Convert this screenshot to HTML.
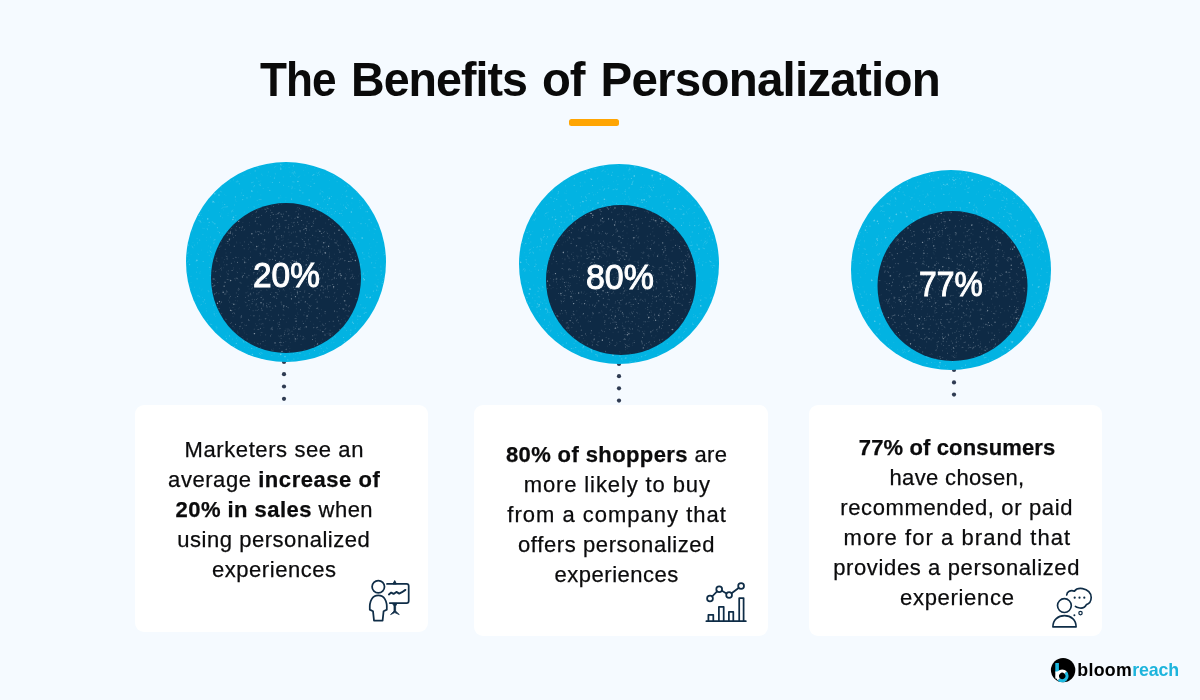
<!DOCTYPE html>
<html lang="en"><head><meta charset="utf-8"><title>The Benefits of Personalization</title>
<style>
html,body{margin:0;padding:0}
body{width:1200px;height:700px;overflow:hidden;position:relative;background:#f5faff;font-family:"Liberation Sans",Arial,sans-serif;color:#0b0b0c}
.abs{position:absolute}
h1{position:absolute;margin:0;white-space:nowrap;font-weight:700;color:#0a0a0a}
h1 span{position:absolute;top:0;display:inline-block;transform-origin:0 0}
.bar{position:absolute;left:569px;top:119.2px;width:50px;height:6.6px;border-radius:2.5px;background:#ffa503}
.card{position:absolute;background:#fff;border-radius:9px}
.ln{position:absolute;white-space:nowrap;-webkit-text-stroke:0.25px #0b0b0c;font-size:22px;line-height:30px;height:30px}
.ln b{font-weight:700}
.num{position:absolute;white-space:nowrap;color:#fff;font-weight:400;-webkit-text-stroke:1px #fff;text-align:center;transform-origin:0 0}
svg{position:absolute;overflow:visible}
.logo{position:absolute;white-space:nowrap;font-weight:700;color:#000}
.logo span{color:#1db4dc}
</style></head><body>
<h1 style="left:260px;top:51.04px;font-size:47.5px;line-height:57.00px;height:57.00px;width:680px"><span style="left:-0.19px;letter-spacing:-1.000px;transform:scaleX(0.9288)">The</span> <span style="left:90.63px;letter-spacing:-1.000px;transform:scaleX(0.9802)">Benefits</span> <span style="left:281.51px;letter-spacing:-1.000px;transform:scaleX(0.9940)">of</span> <span style="left:340.50px;letter-spacing:-0.776px;transform:scaleX(1.0000)">Personalization</span></h1>
<div class="bar"></div>
<svg width="1200" height="700" viewBox="0 0 1200 700" style="left:0;top:0"><defs><g id="spk" fill="none" stroke-linecap="round"><path stroke-width="0.6" opacity="0.35" d="M-9.6 12.1h0M85.7 -6.9h0M1.6 17.7h0M-63.7 2.4h0M26.2 59.2h0M-82.0 -39.7h0M-82.7 62.5h0M39.1 -92.5h0M97.4 93.9h0M31.1 23.3h0M-69.2 -98.0h0M5.7 -89.0h0M-62.6 -52.1h0M-94.9 -7.3h0M-12.0 69.2h0M3.9 28.3h0M-0.0 32.8h0M-8.6 -44.8h0M100.5 100.1h0M68.7 42.0h0M-37.3 -54.6h0M-42.6 -86.8h0M53.8 -20.1h0M70.0 -22.9h0M92.5 70.2h0M-100.9 -58.6h0M82.9 -6.1h0M97.0 -20.7h0M-86.2 26.1h0M56.3 -46.5h0M-83.4 -33.8h0M93.7 52.1h0M-77.2 -51.2h0M-80.6 -88.9h0M60.0 -65.1h0M12.0 -10.6h0M-62.5 46.8h0M-74.5 29.0h0M-77.5 -16.0h0M-58.0 -46.5h0M95.1 61.3h0M-39.6 77.7h0M-58.4 -21.4h0M71.6 28.7h0M-80.7 98.8h0M-57.9 -48.8h0M55.1 -34.6h0M-41.1 -86.2h0M-82.8 16.7h0M-51.9 20.5h0M-25.9 -9.5h0M92.7 -3.3h0M15.1 74.0h0M-64.1 -69.9h0M82.5 64.2h0M-50.6 -62.7h0M48.4 89.0h0M-61.3 90.9h0M77.2 20.9h0M-15.9 -80.0h0M-93.2 93.5h0M-52.8 41.3h0M-49.1 65.4h0M19.5 -41.7h0M-65.6 44.5h0M-87.1 -54.9h0M12.0 71.2h0M23.1 -44.4h0M84.3 -59.8h0M-97.7 -46.6h0M-11.0 -88.8h0M-65.4 -26.5h0M14.6 -74.4h0M-27.8 79.0h0M97.1 31.7h0M38.6 17.1h0M-72.6 -93.9h0M-97.4 82.9h0M40.6 93.5h0M-96.7 27.5h0M-3.6 46.6h0M-36.6 100.9h0M-85.8 9.3h0M47.9 80.8h0M47.9 41.1h0M59.2 83.8h0M-29.9 37.4h0M81.0 75.0h0M-16.7 58.7h0M73.4 14.7h0M25.2 -23.8h0M16.7 22.0h0M-84.8 28.2h0M99.7 76.7h0M46.1 -22.5h0M47.5 16.4h0M-12.0 68.4h0M-84.1 50.5h0M-95.0 20.5h0M-3.8 -54.5h0M40.1 -0.6h0M23.1 84.9h0M-49.3 -98.7h0M-40.2 36.0h0M-60.1 -66.7h0M82.0 32.3h0M-11.7 79.1h0M-35.0 33.5h0M-60.9 -14.0h0M61.8 83.7h0M76.8 -23.3h0M16.8 -37.1h0M-73.5 -0.7h0M68.1 70.4h0M42.7 90.9h0M-45.1 -66.8h0M-10.0 -45.4h0M-57.8 -17.4h0M25.4 -1.2h0M-37.3 68.5h0M97.4 -9.6h0M-85.9 -94.6h0M75.3 -92.6h0M42.1 14.3h0M-38.6 58.9h0M-97.1 -73.6h0M-9.1 -96.0h0M66.6 -53.0h0M-72.5 -91.5h0M26.1 -10.8h0M26.3 31.3h0M62.1 92.6h0M37.3 -60.7h0M-5.0 -64.9h0M-98.8 -5.6h0M43.3 -64.8h0M-46.0 -31.2h0M39.9 4.1h0M23.1 51.8h0M-21.5 59.0h0M82.1 -83.4h0M87.4 44.9h0M-74.8 -9.4h0M25.4 82.8h0M-24.9 13.9h0M76.6 59.9h0M89.7 -7.3h0M30.6 -59.6h0M44.8 64.3h0M28.6 44.0h0M-57.9 80.8h0M97.1 96.4h0M7.5 58.7h0M-36.3 82.8h0M71.9 -30.6h0M-84.3 -11.9h0M10.2 54.2h0M-2.5 -95.3h0M62.4 -88.1h0M60.6 -66.1h0M-33.3 58.2h0M-72.6 -71.0h0M3.3 45.2h0M68.7 38.3h0M90.0 -1.5h0M90.7 -83.6h0M-56.3 5.4h0M-42.4 46.2h0M28.1 4.6h0M69.4 12.1h0M-38.0 -24.0h0M69.7 80.9h0M-58.9 70.9h0M94.6 4.9h0M14.7 -60.4h0M7.3 0.6h0M21.3 -95.4h0M94.8 3.2h0M-20.1 60.8h0M12.7 -1.8h0M38.6 -87.7h0M7.8 -17.4h0M92.3 85.5h0M-46.6 -5.4h0M-75.4 -13.4h0M63.8 80.9h0M-4.7 -36.9h0M-62.3 23.8h0M85.9 -74.8h0M56.4 -96.4h0M-61.8 -55.1h0M37.8 -35.9h0M-29.2 24.2h0M-79.8 46.6h0M-76.2 2.1h0M-50.4 -61.1h0M6.1 -12.8h0M-25.1 -17.5h0M5.9 -68.7h0M-59.7 26.5h0M28.0 6.0h0M71.0 22.6h0M72.1 -54.0h0M48.6 62.7h0M81.3 -37.2h0M-37.4 85.4h0M-56.9 100.7h0M78.3 -73.9h0M-52.7 45.8h0M-48.6 -81.4h0M67.1 -15.8h0M58.6 -75.5h0M-19.6 37.4h0M-97.4 -60.4h0M36.8 83.1h0M94.6 -77.7h0M1.1 52.1h0M0.6 37.5h0M-62.8 -86.7h0M-79.6 -93.4h0M10.4 3.0h0M13.9 -71.4h0M-63.7 -59.8h0M68.7 99.0h0M86.2 -81.8h0M-88.5 91.2h0M-7.7 53.5h0M-35.0 -6.7h0M3.1 -14.1h0M20.4 -98.3h0M40.6 69.5h0M-64.4 -9.3h0M48.3 -19.1h0M-61.6 -67.7h0M2.5 -97.9h0M79.4 60.9h0M41.3 72.9h0M26.1 -19.3h0M20.1 0.9h0M97.5 61.6h0M-48.8 83.1h0M49.4 56.2h0M63.6 -19.1h0M80.1 76.7h0M39.3 54.0h0M53.6 -19.0h0M45.0 -86.7h0M-32.0 -6.3h0M-98.9 -29.2h0M28.0 25.1h0M-54.1 89.8h0M33.6 -32.8h0M32.3 14.1h0M6.7 -22.3h0M101.0 28.7h0M40.7 52.9h0M97.0 -96.4h0M23.3 48.2h0M-49.2 -19.9h0M-90.8 -61.5h0M-25.1 -81.1h0M-50.3 81.9h0M10.1 1.6h0M94.4 13.7h0M100.0 27.9h0M62.5 -85.6h0M19.7 52.4h0M-91.9 86.9h0M-68.7 -5.7h0M-66.8 -0.9h0M22.5 -89.2h0M89.9 -16.0h0M5.4 19.8h0M-27.2 -43.3h0M31.3 12.3h0M-43.7 43.8h0M-41.2 -98.2h0M-51.5 -92.4h0M-69.4 51.4h0M-22.2 80.3h0M50.2 -90.9h0M98.7 89.8h0M-86.2 81.9h0M-14.2 -4.5h0M95.6 -51.8h0M4.7 88.3h0M45.0 -6.4h0M96.7 64.0h0M20.9 -77.8h0M25.1 -9.0h0M-59.9 -90.5h0M5.7 -75.9h0M-11.5 33.9h0M-9.0 -48.0h0M16.6 -16.3h0M56.1 6.2h0M100.5 91.4h0M47.3 -52.8h0M-78.0 79.3h0M57.4 25.2h0M-28.4 -46.2h0M37.4 13.1h0M18.5 26.9h0M51.2 -62.7h0M-50.7 96.9h0M84.0 76.5h0M-93.0 -88.7h0M-46.3 -15.1h0M24.9 -80.3h0M8.4 -86.4h0M-83.5 35.6h0M10.2 26.5h0M-25.6 -4.3h0M-58.5 -31.6h0M49.5 68.4h0M-86.0 -76.8h0M62.5 25.0h0M54.3 -57.9h0M-15.3 -48.9h0M62.6 -26.5h0M31.0 98.8h0M-35.3 9.8h0M49.7 85.0h0M-14.6 -26.4h0M-81.4 75.8h0M-85.1 -84.2h0M13.0 -3.1h0M37.4 -40.6h0M55.7 -85.6h0M-57.9 32.7h0M-84.5 -39.6h0M45.4 39.2h0M-43.9 -72.1h0M-28.7 45.6h0M-27.0 -77.3h0M42.3 14.0h0M84.5 88.9h0M83.5 -12.5h0M61.2 -39.4h0M-36.8 -20.3h0M87.8 79.7h0M-50.8 -27.9h0M-27.2 -27.6h0M-21.1 -22.7h0M-61.6 12.9h0M60.0 8.2h0M67.9 12.7h0M-65.3 52.3h0M76.9 -44.1h0M-96.5 3.2h0M8.9 13.6h0M94.2 30.5h0M61.5 -88.1h0M9.5 58.2h0M-84.0 -84.5h0M47.9 80.6h0M-83.9 27.1h0M-71.9 49.6h0M30.1 -51.4h0M-56.5 53.6h0M4.4 53.5h0M-21.3 -32.8h0M94.6 34.8h0M-1.3 7.5h0M44.6 42.0h0M83.8 -18.1h0M65.9 33.7h0M71.4 61.8h0M67.4 78.5h0M92.5 28.3h0M4.8 42.4h0M61.1 -15.8h0M-16.1 -71.5h0M48.7 99.2h0M-25.1 -67.1h0M-59.7 -15.2h0M-42.0 94.9h0M-89.0 -38.7h0M-77.8 29.9h0M55.7 -64.8h0M-88.4 -8.3h0M17.0 82.7h0M-93.7 -79.0h0M-63.7 -57.1h0M-53.4 43.9h0M19.1 -55.8h0M-63.6 -44.2h0M-66.2 52.0h0M-38.0 9.7h0M64.1 -4.1h0M-48.4 78.3h0M83.7 -31.9h0M9.6 92.3h0M-3.5 -56.4h0M-91.0 90.4h0M60.9 -23.2h0M5.6 3.2h0M-45.5 99.0h0M31.8 -53.0h0M-98.8 -5.5h0M-25.9 59.9h0M43.1 21.4h0M-69.2 -69.3h0M-36.0 -48.6h0M74.6 3.3h0M27.7 99.6h0M-47.2 7.0h0M-70.6 54.6h0M-100.7 64.9h0M69.9 65.1h0M-84.3 -46.5h0M43.7 -81.4h0M-4.0 -6.3h0M92.0 17.5h0M72.2 -39.7h0M58.4 -16.8h0M84.2 -82.6h0M65.9 -58.9h0M8.8 5.2h0M-69.2 67.1h0M-38.1 -38.2h0M-85.6 -39.2h0M-6.6 43.5h0M-28.3 37.8h0M-79.6 -21.4h0M-7.7 94.3h0M66.6 31.1h0M-98.5 -24.8h0M42.4 -53.0h0M13.0 -8.5h0M-98.9 99.3h0M60.5 -59.2h0M23.4 -42.3h0M-25.1 8.0h0M-40.8 -32.8h0M-21.8 33.7h0M-49.2 -60.6h0M46.8 -34.5h0M89.9 12.7h0M45.2 -34.0h0M66.0 -82.4h0M-72.6 -81.9h0M35.9 42.1h0M-64.7 -19.7h0M68.1 18.7h0M-82.8 -55.2h0M-69.3 -75.9h0M-18.8 -86.3h0M85.0 -14.7h0M2.3 29.7h0M53.9 64.9h0M-23.0 -34.1h0M-17.7 -97.9h0M-20.1 40.4h0M97.4 58.5h0M32.4 21.9h0M-97.3 -34.1h0M-31.9 30.4h0M-79.5 -24.7h0M1.9 58.3h0M65.7 22.5h0M-69.0 53.8h0M81.4 9.7h0M-29.8 0.1h0M-72.4 43.1h0M98.3 3.2h0M43.5 67.8h0M-61.2 89.9h0M25.7 -61.0h0M-84.2 -51.6h0M15.5 39.8h0M-34.5 86.7h0M-28.0 -7.5h0M-75.9 95.7h0M-73.6 81.6h0M8.8 12.3h0M12.2 -47.6h0M82.7 99.4h0M64.1 20.5h0M-76.2 65.6h0M-42.7 80.2h0M-52.3 14.9h0M66.8 -63.5h0M9.7 -85.6h0M-94.5 -64.6h0M98.4 88.8h0M32.0 -38.9h0M34.6 48.0h0M-23.9 18.6h0M61.4 -97.7h0M-60.7 -6.5h0M-72.1 -23.0h0M14.0 -65.9h0M4.0 -47.7h0M13.7 -33.9h0M28.6 -93.4h0M34.5 -71.8h0M92.8 20.2h0M-6.1 -17.9h0M25.0 38.2h0M52.1 50.8h0M-2.9 99.9h0M68.3 71.7h0M-18.4 -13.3h0M13.3 81.9h0M5.2 5.1h0M-13.7 81.7h0M-36.2 -90.0h0M45.6 80.8h0M46.9 19.7h0M50.9 -39.4h0M18.9 -86.9h0M-75.9 -10.7h0M0.5 -20.9h0M-90.5 39.4h0M5.3 -52.7h0M-39.1 -21.1h0M-53.4 -87.2h0M83.1 94.2h0M33.5 74.0h0M-15.9 61.7h0M-56.2 49.8h0M13.5 81.5h0M-81.1 59.1h0M-76.0 7.6h0M91.1 -100.9h0M-51.7 -40.5h0M-35.4 -88.3h0M79.8 63.7h0M-20.8 -29.0h0M17.3 -91.7h0M-94.7 80.5h0M-38.8 -0.3h0M87.7 96.4h0M-5.5 -59.3h0M-41.3 85.4h0M80.2 -61.5h0M68.3 -29.5h0M-5.6 -66.3h0M76.7 100.1h0M-60.2 26.7h0M-62.3 76.8h0M-90.9 -79.6h0M45.6 -37.8h0M80.9 74.7h0M43.1 -73.8h0M39.6 88.4h0M-11.1 -85.0h0M-55.9 -39.0h0M42.5 -61.3h0M-64.4 -53.4h0M33.2 58.7h0M-25.8 32.7h0M77.7 18.2h0M-54.7 -40.2h0M86.2 33.7h0M-45.1 28.3h0M-82.8 97.6h0M-12.1 5.7h0M6.2 -91.8h0M20.1 -43.5h0M-50.3 61.3h0M-83.4 -43.4h0M51.6 -51.3h0M-44.6 9.7h0M-63.4 80.2h0M98.5 -94.2h0M-7.8 50.6h0M-23.3 86.7h0M-0.0 -64.7h0M11.3 29.3h0M-28.4 32.0h0M57.2 3.4h0M1.1 69.8h0M37.2 4.1h0M91.2 -65.9h0M56.5 -67.6h0M21.8 -53.5h0M-12.0 55.2h0M57.9 58.8h0M-53.3 -2.2h0M-56.3 16.2h0M-0.2 -93.9h0M19.6 43.4h0M14.7 75.3h0M-64.6 -70.3h0M-97.4 -0.8h0M-13.2 -11.8h0M-47.9 60.3h0M-86.3 82.3h0M13.9 8.7h0M58.9 -52.9h0M-71.5 -38.2h0M-92.5 -37.5h0M24.5 5.1h0M-47.5 17.9h0M-83.1 64.8h0M-66.3 -49.5h0M-68.7 38.5h0M66.8 57.9h0M-88.6 -18.1h0M-27.4 -57.3h0M95.0 -92.5h0M-2.1 52.8h0M98.2 -71.8h0M-9.0 49.5h0M-93.1 -52.4h0M78.8 -72.4h0M-21.6 -40.8h0M-15.3 -85.5h0M-94.1 100.2h0M53.2 47.3h0M-54.6 -49.9h0M10.5 -52.2h0M-7.8 87.4h0M-27.5 -32.9h0M97.2 22.4h0M-93.0 -19.6h0M30.3 -89.2h0M-31.7 39.3h0M73.6 18.3h0M78.0 -7.6h0M-21.6 69.3h0M-24.0 56.8h0M-57.5 -30.8h0M-63.9 10.0h0M-67.9 -59.9h0M-57.7 -6.5h0M-38.7 -10.7h0M99.7 36.2h0M73.3 -59.7h0M-23.6 -86.3h0M38.7 -27.7h0M-45.5 -97.2h0M-64.2 -48.0h0M-21.6 85.6h0M43.5 -46.7h0M-28.1 -70.0h0M88.2 -28.3h0M53.7 45.1h0M82.2 -96.9h0M-35.9 -23.3h0M-84.2 77.2h0M-35.3 54.7h0M3.9 -89.9h0M-21.4 -52.9h0M-92.8 -70.5h0M19.3 -94.6h0M-37.9 -15.3h0M8.9 -73.5h0"/><path stroke-width="0.9" opacity="0.45" d="M41.7 -48.4h0M45.5 33.6h0M-71.3 -59.6h0M-44.4 43.0h0M-19.1 -22.9h0M73.9 -55.3h0M-42.0 -31.3h0M-57.4 -92.8h0M-96.0 26.3h0M13.3 62.4h0M96.1 -40.8h0M34.4 84.7h0M-57.3 38.2h0M33.7 91.9h0M74.4 -53.6h0M26.8 -82.8h0M-14.6 -21.7h0M-88.9 -23.6h0M-34.7 -0.6h0M-44.5 -69.0h0M-19.7 -5.0h0M-67.3 33.4h0M-52.6 -82.2h0M-31.9 -15.7h0M-70.5 16.7h0M40.7 10.7h0M40.4 -96.3h0M-21.9 -27.4h0M-88.3 -19.3h0M-90.0 -0.9h0M17.3 -6.3h0M-35.2 -49.8h0M-96.2 -30.9h0M79.1 13.3h0M-48.1 33.9h0M-63.4 -6.2h0M23.3 91.8h0M-27.7 15.4h0M89.4 54.8h0M25.7 24.4h0M-18.0 -17.1h0M-45.2 66.6h0M76.7 -23.9h0M82.7 -93.3h0M-73.6 1.4h0M-38.7 -28.2h0M96.3 -70.7h0M-62.1 -54.8h0M36.4 -53.6h0M-100.8 8.9h0M-21.4 -52.7h0M-1.3 30.3h0M9.7 25.1h0M12.3 66.9h0M94.7 -33.6h0M-31.0 78.0h0M-37.7 43.6h0M39.5 37.7h0M93.7 65.5h0M-68.8 24.6h0M-1.9 12.9h0M-26.4 -43.3h0M50.3 6.9h0M-53.1 -50.6h0M-35.4 -65.1h0M2.8 -75.5h0M-88.2 -87.1h0M-80.3 41.4h0M-78.2 -9.8h0M55.0 -3.9h0M-68.2 74.0h0M74.7 -90.2h0M-49.7 1.5h0M59.9 -21.8h0M43.6 -50.1h0M43.6 -35.0h0M-33.6 52.4h0M69.2 66.4h0M13.6 -16.0h0M41.8 24.8h0M66.9 60.9h0M-75.7 -24.9h0M34.2 -54.3h0M-63.7 -98.2h0M17.3 89.1h0M95.0 -74.0h0M37.9 -16.3h0M26.6 -20.9h0M87.5 98.7h0M-91.2 43.1h0M-77.1 -92.4h0M-43.2 46.7h0M99.7 -76.7h0M-34.3 -95.6h0M8.6 -3.4h0M-25.6 -38.5h0M60.7 68.4h0M-43.7 -21.9h0M23.8 53.6h0M97.2 -22.4h0M39.2 9.3h0M60.6 -71.3h0M-65.6 -79.4h0M87.6 -50.2h0M-2.4 -76.7h0M-35.6 -97.1h0M13.3 -72.0h0M25.3 -45.6h0M-55.0 -3.6h0M-27.1 -48.6h0M-90.7 -88.0h0M79.3 -38.5h0M-85.2 -64.1h0M-3.3 100.4h0M-60.2 74.2h0M-3.2 -17.3h0M62.0 -21.0h0M-89.4 10.2h0M31.7 24.9h0M-45.0 88.7h0M73.6 99.8h0M-11.5 67.4h0M45.4 -65.5h0M-95.6 -66.9h0M-77.0 -85.9h0M-28.5 51.2h0M-38.4 2.9h0M-98.9 -58.6h0M92.8 -98.8h0M5.5 62.6h0M59.0 47.6h0M-20.3 61.2h0M66.2 54.1h0M98.2 -80.6h0M91.0 -19.7h0M41.5 -50.4h0M82.7 -96.3h0M15.5 -55.1h0M-22.5 -26.4h0M31.7 62.8h0M-27.3 27.9h0M-29.5 -44.6h0M81.8 -36.0h0M-82.0 -33.4h0M48.8 -58.3h0M49.1 9.3h0M36.4 -65.2h0M-79.6 -72.1h0M-30.2 -14.0h0M-99.1 0.5h0M-19.5 -36.1h0M7.5 91.4h0M-59.7 76.9h0M-36.2 51.3h0M-79.1 98.5h0M-14.1 93.5h0M-56.6 -18.5h0M41.6 -65.1h0M-45.8 35.8h0M90.4 -35.9h0M-63.9 -28.8h0M98.9 -71.1h0M27.2 -24.6h0M29.1 -58.1h0M23.5 78.3h0M72.0 26.0h0M1.0 13.7h0M-77.9 68.2h0M38.3 -9.5h0M33.4 -16.3h0M-23.3 -54.5h0M20.3 14.7h0M3.1 -94.5h0M25.7 -10.7h0M18.9 19.1h0M87.2 -70.3h0M-6.3 99.6h0M48.1 -37.8h0M47.8 98.9h0M-19.8 74.2h0M-75.4 99.0h0M-1.8 -53.7h0M68.7 30.1h0M88.4 66.5h0M60.1 2.3h0M99.7 -87.9h0M74.8 42.8h0M-50.4 62.0h0M-9.3 7.3h0M73.8 -61.4h0M-44.5 29.0h0M-86.1 11.1h0M58.0 -1.9h0M-52.2 60.6h0M71.7 54.7h0M10.0 81.9h0M59.9 -70.3h0M-27.1 -80.7h0M-93.6 -31.2h0M73.7 67.4h0M-77.3 -64.3h0M-22.5 70.5h0M23.6 81.2h0M-86.5 98.5h0M-59.2 26.1h0M76.1 46.0h0M-61.2 34.0h0M-14.0 -97.9h0M-32.4 -37.3h0M26.2 -44.7h0M20.8 39.4h0M-64.5 -75.1h0M39.1 -6.8h0M-74.9 -77.6h0M89.1 22.2h0M-28.8 -61.4h0M100.0 38.7h0M47.7 -28.2h0M-38.3 -18.5h0M-71.5 26.5h0M-15.2 64.7h0M-18.4 -8.7h0M1.3 89.2h0M-31.0 41.1h0M-53.5 16.0h0M-43.5 75.3h0M-43.1 71.6h0M35.7 -9.1h0M87.6 -22.7h0M49.1 20.5h0M-10.4 -88.0h0M-16.3 -44.2h0M-11.9 91.8h0M-41.8 39.4h0M34.8 -51.6h0M-17.9 -74.3h0M79.9 -50.2h0M-16.0 -32.0h0M64.7 70.8h0M18.3 9.3h0M-80.9 80.1h0M-83.1 -27.6h0M-25.4 45.1h0M34.2 -31.5h0M80.4 90.8h0M-96.3 26.9h0M-6.2 -27.9h0M-7.1 -37.2h0M34.5 21.3h0M95.0 96.2h0M99.5 -21.2h0M66.4 30.3h0M40.6 100.5h0M-87.6 -7.6h0M-19.9 31.5h0M-57.0 98.9h0M-58.7 -26.3h0M-72.1 -21.3h0M48.8 -84.1h0M-67.3 30.1h0M24.8 48.9h0M-49.8 62.9h0M46.6 55.8h0M-76.8 -6.3h0M-97.8 72.7h0M89.8 80.0h0M-96.1 -30.1h0M7.2 6.8h0M-78.5 58.4h0M-40.1 1.5h0M-75.8 13.7h0M-74.8 -83.2h0M2.5 -41.6h0M56.1 -51.2h0M-17.4 -90.0h0M-57.0 -9.8h0M11.7 -8.2h0M70.8 -79.9h0M70.7 -69.7h0M95.0 5.0h0M-18.9 22.7h0M73.5 93.7h0M-17.5 -98.8h0M-69.9 64.3h0M47.4 42.9h0M-69.4 6.3h0M-95.2 -78.7h0M-40.2 94.2h0M28.9 70.2h0M-91.7 -16.9h0M-85.2 -48.3h0M-78.4 84.6h0M-34.6 -2.2h0M31.1 78.1h0M90.2 13.7h0M0.2 81.6h0M-21.3 -40.5h0M48.3 -48.8h0M-26.7 -14.3h0M-4.7 -28.6h0M-14.0 -9.9h0M-91.0 67.8h0M-88.5 5.6h0M9.6 -20.3h0M-56.0 -81.0h0M-25.9 -37.5h0M-3.2 -54.5h0M50.4 -2.5h0M-99.2 -18.9h0M94.2 -99.6h0M18.9 93.1h0M-27.1 19.8h0M-26.5 -40.2h0M22.1 18.1h0M-37.3 -0.5h0M3.3 51.3h0M-90.3 -82.2h0M-50.1 -46.4h0M59.7 -15.0h0M72.7 -19.7h0M-43.3 36.3h0M-83.7 97.8h0M67.0 -34.7h0M-36.9 64.5h0M58.2 28.7h0M-89.5 53.2h0M-91.3 25.2h0M10.5 86.3h0M28.0 -96.5h0M87.7 51.1h0M16.1 -99.9h0M47.9 -16.5h0M36.3 97.7h0M84.2 -85.9h0M56.8 -12.0h0M50.8 -24.7h0M-10.6 -12.8h0M-77.2 -36.4h0M47.4 -86.6h0M-77.6 67.5h0M33.6 9.7h0M-78.1 -77.1h0M-38.4 91.7h0M12.2 85.3h0M-58.3 -17.2h0M7.3 68.5h0M-76.1 75.5h0M-5.6 -94.7h0M-13.7 -24.7h0M35.2 86.5h0M-1.3 38.3h0M-22.6 56.3h0M-79.7 49.0h0M-67.4 17.3h0M-60.2 -31.1h0M-67.9 -30.4h0M18.5 4.0h0M-22.5 15.0h0M69.1 -28.6h0M16.9 -3.9h0M97.1 -34.7h0M39.9 -53.8h0M-48.2 46.5h0M15.1 -49.1h0M-88.0 65.6h0M-24.7 43.7h0M-13.6 23.8h0M12.0 96.1h0M82.7 -8.9h0M-2.7 -54.3h0M51.1 -80.3h0M-39.1 70.2h0M-93.9 40.1h0M13.8 10.4h0M-33.7 -70.4h0M91.1 53.5h0M61.8 -81.3h0M57.4 -56.9h0M-60.7 7.1h0M22.2 -76.6h0M53.5 16.7h0M80.7 85.6h0M38.2 -27.5h0M91.1 44.2h0M-42.2 72.2h0M45.8 -47.5h0M-50.7 -96.9h0M7.5 -49.8h0M-41.8 -49.9h0M-74.4 -3.1h0M-45.9 -43.4h0M-44.9 1.9h0M75.5 -68.7h0M72.6 71.7h0M22.1 8.8h0M47.3 7.0h0M32.3 84.7h0M55.6 -48.5h0M-90.0 88.2h0M-27.7 58.0h0M-53.8 -9.5h0M-26.2 46.3h0M89.6 1.1h0M13.3 -30.6h0M-54.1 90.9h0M-78.7 89.0h0M31.7 -86.5h0M81.1 -80.4h0M13.2 -76.8h0M98.7 -38.5h0M75.2 -88.6h0M33.6 -87.3h0M-95.0 14.3h0M97.5 37.4h0M71.8 57.5h0M4.3 -85.4h0M5.5 -63.7h0M5.4 -29.4h0M-0.2 -61.1h0M41.4 -16.7h0M-2.8 -85.1h0M-2.6 11.6h0M95.5 12.4h0M-73.8 -40.4h0M-33.2 40.8h0M88.7 96.2h0M90.9 85.9h0M72.4 87.9h0M-96.9 -2.1h0M18.3 37.5h0M22.8 22.9h0M87.5 -83.5h0M3.9 92.8h0M-94.6 -78.4h0M74.5 92.3h0M-96.1 -94.5h0M66.6 38.1h0M4.0 16.2h0M52.0 62.2h0M-100.9 -87.3h0M59.4 96.0h0M67.3 -18.7h0M-33.2 -31.0h0M-98.0 54.6h0M-48.0 17.3h0M5.3 -33.3h0M35.3 -9.1h0M-53.7 77.1h0M-65.5 -70.7h0M-49.8 -4.2h0M57.3 -33.8h0M-52.9 31.2h0M-48.4 4.6h0M-49.5 76.2h0M-63.7 -54.1h0M-40.1 -34.4h0M45.7 35.2h0M58.6 8.1h0M-85.1 53.2h0M-51.6 -57.0h0M-17.3 98.9h0M-26.1 -29.0h0M83.0 99.1h0M-22.8 -73.6h0M58.5 57.0h0M-32.7 58.7h0M-24.3 -43.0h0M18.8 48.8h0M-4.9 64.3h0M-98.2 -0.2h0M-24.2 -87.8h0M83.7 -72.0h0M-59.5 76.4h0M93.0 87.2h0M-31.9 87.0h0M-72.4 43.3h0M90.0 -62.1h0M-73.6 36.0h0M77.3 45.7h0M90.8 -9.3h0"/><path stroke-width="1.2" opacity="0.6" d="M-25.8 -76.7h0M-45.9 88.7h0M-86.5 -63.7h0M-30.8 -91.1h0M-39.0 -64.1h0M-76.2 5.4h0M8.1 13.7h0M53.0 5.4h0M90.3 -84.5h0M-56.0 -85.5h0M-38.5 52.7h0M85.7 0.8h0M-68.6 -34.3h0M13.8 -41.5h0M59.1 95.5h0M-8.1 20.8h0M69.9 -7.1h0M-62.5 89.7h0M96.5 -96.1h0M53.1 -20.1h0M-90.5 -68.1h0M-66.0 47.8h0M-58.3 -97.0h0M-56.6 60.4h0M-0.2 30.9h0M-7.1 -64.1h0M-97.9 -39.5h0M-92.6 -48.4h0M24.0 -26.4h0M-5.5 25.0h0M-36.9 -29.0h0M77.5 16.4h0M-16.8 8.1h0M-8.0 -33.8h0M83.6 -53.9h0M88.0 71.3h0M77.2 -68.2h0M1.8 97.9h0M-42.7 -66.5h0M45.1 -53.5h0M16.9 -69.2h0M90.4 -43.6h0M-81.4 37.8h0M-30.9 12.0h0M-0.6 85.4h0M2.9 -24.5h0M-100.7 -0.7h0M-46.6 15.0h0M26.6 -7.6h0M-82.8 -0.5h0M-3.7 28.5h0M95.0 -44.4h0M-11.6 -83.9h0M60.6 -53.6h0M66.5 60.2h0M-49.6 81.4h0M0.8 -14.9h0M11.1 90.1h0M-2.0 -3.6h0M-42.3 68.9h0M0.6 -31.8h0M-61.3 -57.5h0M67.5 61.3h0M96.7 84.3h0M37.4 60.1h0M42.8 62.5h0M60.9 -65.4h0M63.6 -39.7h0M-51.7 84.7h0M-96.4 2.4h0M-31.7 58.9h0M22.3 83.0h0M87.4 29.1h0M-88.0 33.8h0M-78.9 97.4h0M75.0 -38.3h0M-63.4 39.2h0M52.1 98.0h0M24.8 -75.7h0M45.8 -89.2h0M74.3 54.3h0M57.6 75.5h0M14.0 89.6h0M28.1 -1.6h0M-23.3 -29.6h0M-96.4 -68.5h0M59.7 -54.8h0M31.0 55.6h0M39.3 3.2h0M-37.2 -45.9h0M-63.2 29.9h0M37.6 89.3h0M-34.2 86.3h0M83.1 -42.3h0M91.3 24.1h0M93.4 55.4h0M-33.7 -44.6h0M4.6 -2.5h0M-93.8 73.2h0M7.2 -5.4h0M49.4 -50.5h0M-60.8 16.3h0M-52.3 -34.8h0M-86.9 -90.5h0M-29.2 5.4h0M90.7 28.2h0M-17.3 -18.8h0M-53.5 -5.3h0M92.7 -76.4h0M-13.5 37.5h0M53.0 11.1h0M28.5 88.5h0M81.3 -50.3h0M8.3 100.5h0M5.6 -62.7h0M53.7 -89.5h0M-70.6 10.4h0M-45.9 44.4h0M45.8 -36.5h0M53.9 29.8h0M41.6 -8.8h0M-13.6 -79.5h0M-5.1 91.8h0M78.5 -89.7h0M-86.6 -46.6h0M39.3 -12.6h0M-75.2 -15.0h0M14.8 49.3h0M-19.6 30.2h0M36.6 23.4h0M-91.6 42.5h0M-75.0 -89.9h0M-5.3 -97.6h0M-86.3 -22.0h0M-6.4 -79.7h0M91.7 71.1h0M-2.7 17.7h0M-37.2 97.7h0M-76.8 -39.6h0M-56.4 73.9h0M1.8 -18.1h0M-20.4 78.2h0M-49.0 58.8h0M42.0 -10.4h0M-27.1 -12.8h0M-9.5 -37.3h0M25.0 -17.9h0M-39.7 55.1h0M-9.1 -5.3h0M76.7 -9.2h0M-25.0 80.4h0M96.2 57.7h0M-19.9 34.6h0M48.7 -41.2h0M45.2 90.9h0M31.5 34.1h0M-13.1 31.0h0M-55.4 54.6h0M7.9 97.0h0M-32.0 42.8h0M-97.6 -16.9h0M53.8 -48.6h0M22.9 -56.4h0M-20.5 99.7h0M-61.3 83.4h0M-88.9 16.8h0M64.9 68.1h0M-22.0 18.3h0M42.8 52.9h0M49.8 15.9h0M-50.2 41.5h0M12.4 8.9h0M98.4 -73.4h0M56.7 -35.4h0M45.8 91.0h0M-45.6 13.6h0M5.7 -1.0h0M-67.3 25.3h0M79.5 33.0h0M-42.6 61.8h0M-16.2 -71.7h0M21.4 -8.0h0M6.0 99.2h0M14.0 91.6h0M-29.8 52.3h0M-85.8 -40.3h0M38.8 38.4h0M66.3 -24.2h0M-45.7 -28.6h0M7.5 -96.1h0M-25.3 31.8h0M-71.0 -38.2h0M75.3 87.6h0M-50.6 -65.1h0M-77.2 -83.7h0M59.4 48.3h0M-47.6 -2.2h0M39.5 -95.3h0M64.4 72.6h0M-58.3 41.1h0M40.3 -32.9h0M76.4 -56.9h0M-5.3 -37.6h0M-11.7 63.1h0M14.1 22.1h0M98.4 -55.9h0M-56.0 24.2h0M-70.7 93.8h0M-32.1 -12.1h0M-13.9 66.2h0M83.9 35.8h0M-66.4 -29.3h0M41.7 -57.4h0M77.3 75.2h0M-55.2 -27.4h0M-54.8 44.1h0M-91.5 39.5h0M-88.3 68.9h0M8.7 16.8h0M-81.8 -92.1h0M-29.7 97.9h0M20.2 73.2h0M-88.3 -80.4h0M-96.8 39.8h0M-65.4 -45.9h0M33.7 39.5h0M-35.9 -6.6h0M-42.6 12.4h0M-29.1 -28.3h0M-50.7 -42.0h0M-48.3 -97.7h0M-38.3 18.6h0M-46.7 -78.2h0M69.9 -6.2h0M2.4 -38.0h0M78.2 51.3h0M24.8 32.2h0M38.9 0.1h0M-17.5 -22.2h0M0.8 -6.3h0M5.8 6.7h0M58.3 79.3h0M-55.8 -96.5h0M-40.2 -94.6h0M59.9 24.3h0M-43.3 -62.4h0M74.5 67.9h0M37.1 38.7h0M49.4 -9.2h0M-20.7 10.7h0M76.8 99.3h0M84.2 67.8h0M-86.0 -51.1h0M95.1 8.8h0M3.0 -38.4h0M73.1 3.4h0M99.1 -85.7h0M99.6 -98.3h0M-71.1 -22.3h0M28.2 -78.7h0"/><path stroke-width="1.6" opacity="0.75" d="M12.6 88.7h0M-13.0 53.0h0M18.6 16.6h0M-66.0 -7.3h0M80.9 35.2h0M-57.2 -10.7h0M8.8 -33.0h0M15.7 26.6h0M-97.4 -56.6h0M31.7 -57.7h0M-86.3 52.9h0M-33.6 92.5h0M11.9 -80.5h0M27.6 -48.0h0M63.5 45.3h0M52.2 -89.4h0M-94.1 60.2h0M-72.6 -60.2h0M-95.0 -68.0h0M-5.3 92.5h0M-36.1 -48.6h0M66.2 -63.7h0M27.3 23.3h0M87.9 -92.2h0M12.8 -23.7h0M65.4 -50.0h0M43.4 -63.6h0M-1.0 94.6h0M-52.5 -44.7h0M84.3 35.2h0M-87.7 -63.3h0M-53.1 -42.4h0M69.6 40.5h0M96.9 34.3h0M25.8 -23.6h0M43.9 -1.3h0M-89.1 -1.6h0M-23.4 6.3h0M-91.2 -95.4h0M97.5 -26.0h0M-34.3 -71.0h0M18.7 83.8h0M-64.6 0.0h0M-0.1 53.7h0M13.1 -52.7h0M-62.7 45.4h0M-85.2 73.7h0M-94.2 -62.7h0M-6.5 69.5h0M24.2 49.7h0M52.7 44.9h0M-90.6 65.7h0M-71.2 -68.2h0M-93.4 -95.3h0M76.1 -24.0h0M-83.5 -91.6h0M70.0 20.5h0M84.1 -93.5h0M-78.3 -43.1h0M-62.4 -78.3h0M-60.5 28.4h0M-67.0 -66.9h0M7.2 -25.1h0M-70.8 13.8h0M1.6 -22.6h0M-5.2 -93.0h0M23.2 -61.9h0M-33.2 -99.1h0M78.3 17.7h0M-21.8 8.5h0"/><path stroke-width="0.7" opacity="0.5" d="M88.9 -74.3l0.6 1.7M-25.8 41.8l-0.8 0.2M-43.5 -41.9l-1.3 1.3M40.3 85.8l1.1 0.7M71.3 53.6l2.0 0.8M48.6 73.9l0.7 1.5M92.7 80.4l-0.5 2.0M100.8 68.5l-1.0 1.9M-72.0 -19.5l-0.2 1.0M56.7 -88.4l-0.5 1.1M-35.8 21.6l1.2 0.8M72.2 98.3l0.9 1.0M39.1 -62.7l-1.0 0.5M11.5 -32.4l0.8 0.0M-100.6 -34.7l1.4 1.7M27.8 -87.8l-0.7 0.9M-3.7 45.0l-1.9 0.9M-16.0 -36.8l0.4 1.2M48.8 -7.5l-0.6 0.8M57.1 94.3l1.3 1.0M-68.3 -93.9l0.3 1.0M46.6 14.6l-1.1 1.8M-89.2 -81.1l1.4 0.2M65.5 37.1l-0.3 2.0M-25.8 -78.2l-0.4 0.8M-54.7 -95.0l0.8 0.4M6.4 -75.1l-0.6 1.9M-31.4 -76.7l-0.9 1.6M77.6 10.9l-0.5 1.9M35.8 95.9l1.2 1.5M26.8 -6.4l1.5 0.0M-47.8 20.5l-0.0 1.5M-89.1 -74.4l-0.6 1.7M99.1 59.1l0.9 1.1M1.2 61.4l0.7 2.0M-3.2 -20.6l0.1 1.3M100.9 -91.6l0.3 0.9M35.9 -70.6l1.2 0.6M20.6 53.2l0.2 1.2M-26.7 78.4l0.6 0.5M77.9 -3.4l0.9 0.4M78.9 50.3l1.7 0.4M-57.8 -10.9l-0.3 0.8M88.0 -33.3l1.7 0.8M-79.0 -93.5l-0.7 1.3M80.9 58.7l0.7 0.5M20.9 -6.0l1.2 1.7M-58.9 28.9l2.0 0.5M90.6 23.8l1.0 1.5M81.5 59.6l1.5 0.2M-72.7 9.4l-2.0 0.3M-50.7 10.5l0.6 0.9M49.2 52.4l0.7 1.2M39.7 46.0l0.1 1.0M-81.7 -66.7l-1.3 0.8M29.2 -27.4l0.4 1.0M95.9 21.3l1.6 0.7M19.8 22.9l-1.2 1.1M76.0 94.9l0.5 1.6M-25.4 -18.1l0.7 1.6M-29.8 -29.9l-1.7 0.9M35.6 69.4l0.6 1.6M-50.3 -37.3l1.8 0.6M85.1 -39.9l0.4 0.9M-72.3 27.9l-0.9 0.3M-49.6 52.3l1.5 1.3M-29.7 -5.4l1.0 0.7M-15.2 -44.8l-0.6 0.6M28.0 61.1l0.6 0.9M-76.8 -85.4l-1.3 1.0M-97.9 -9.4l-0.4 1.2M-94.0 -16.0l1.0 1.9M-28.3 85.4l-1.5 0.6M-75.6 62.2l1.5 0.4M-81.4 -82.3l0.3 1.0M99.4 15.7l-2.0 0.7M52.1 29.4l0.2 1.9M34.2 -69.1l-0.1 1.4M3.1 43.1l-0.9 1.3M58.3 65.7l1.0 0.3M-91.5 -68.6l-1.2 0.2M-12.3 -7.0l-0.2 1.2M56.3 -34.0l-1.7 0.9M-100.8 9.6l2.0 0.6M-87.0 -47.0l-1.2 1.1M33.7 -17.6l-0.1 1.1M-7.6 -49.0l-0.5 0.8M-73.2 -61.1l-0.2 1.6M-100.4 98.4l-1.2 0.7M-68.9 65.8l-1.0 0.1M51.7 64.2l-1.1 0.2M-76.7 -67.8l1.5 1.4M82.8 -5.3l1.2 0.5M-52.3 30.0l-1.2 1.5M-12.7 -8.7l0.1 1.3M-9.1 37.4l-0.8 1.0M13.5 -71.7l1.3 0.2M-28.4 -94.4l1.4 0.3M89.3 68.2l1.2 0.1M-26.5 -38.2l1.5 0.7M68.5 -23.9l0.8 0.5M-97.9 53.6l1.4 1.2M58.7 -84.1l1.0 0.7M54.3 47.8l0.8 1.2M-29.3 -5.7l-0.9 0.7M62.7 84.8l-0.7 2.0M88.5 -66.4l-1.1 0.0M61.5 -76.5l0.8 1.2M68.5 36.5l1.6 1.2M73.8 2.0l1.2 0.2M-41.9 -16.4l-1.6 0.3M64.6 -86.6l1.3 1.3M-32.2 -55.1l0.9 0.2M-17.7 9.3l0.5 1.5M-42.2 -97.6l-0.7 1.1M-1.7 -24.7l0.6 0.7M-41.1 -40.8l0.8 0.3M-3.9 -97.1l-1.2 0.5M-11.4 5.2l0.9 0.1M57.6 11.4l0.0 1.3M50.7 0.6l-1.6 1.2M79.6 45.6l-0.8 1.2M6.7 16.0l-0.2 1.9M72.3 -90.5l-1.2 1.2M19.9 82.5l1.4 0.2M-25.2 90.6l1.4 0.8M-71.8 51.3l0.1 1.8M-39.0 77.4l1.1 0.0M47.1 76.5l-0.9 0.8M-84.6 42.3l-0.6 0.7M87.8 5.6l1.5 0.2M-32.7 -79.9l-2.0 0.7M-75.9 -11.0l1.1 1.3M-78.8 -33.6l0.4 1.4M-13.1 19.4l-2.1 0.4M82.3 66.4l0.9 0.8M-8.1 28.9l-0.4 1.2M99.3 -37.9l0.9 0.1M-58.7 46.6l-0.8 0.4M-53.1 -52.0l-1.6 1.3M-47.8 -80.3l-2.1 0.2M43.8 -5.5l-1.3 1.3M1.9 -46.2l-0.1 1.7M-35.5 28.1l1.9 1.0M-58.3 -55.3l-2.1 0.3M85.9 68.9l-1.7 0.9M13.5 -86.0l-1.3 1.5M68.2 -92.2l1.8 0.3M-2.4 79.5l-1.4 0.0M35.5 33.3l-0.8 1.1M28.2 -87.3l-1.7 0.6M61.1 -7.6l1.1 0.9M36.5 9.7l0.8 0.3M-20.6 -51.5l0.8 0.7M-17.0 39.4l-1.7 0.5M-96.8 74.3l-0.6 1.7M23.0 -29.4l0.4 0.8M33.1 -90.1l-1.1 1.7M33.9 21.5l-1.8 1.2M63.1 99.0l0.1 0.8M23.1 28.0l-1.5 0.7M-27.6 -100.1l-1.4 0.8M98.0 18.9l-1.7 0.8M99.2 -7.6l-1.3 0.4M-98.7 -35.2l1.0 2.0M-21.2 -45.5l-0.5 0.8M-39.3 -21.2l1.5 0.6M-15.6 61.0l1.0 1.9M-61.5 6.2l0.6 0.5M-40.1 79.9l0.9 1.2M4.8 -47.3l-0.1 0.9M-30.4 -43.5l-1.6 1.0M40.6 19.2l-1.7 0.7M-89.8 -74.7l-1.4 1.4M98.8 55.6l1.4 0.8M25.1 21.1l2.0 0.9M2.1 -46.7l-1.3 0.1M-86.9 34.2l0.8 0.8M-39.9 21.6l0.9 1.5M81.9 99.2l-2.0 0.7M-49.9 65.5l1.6 0.4M-85.7 -81.0l-1.0 0.2M43.9 5.5l1.9 0.0M-88.7 78.1l-1.3 0.8M-10.8 -95.4l-0.5 0.7M5.3 85.9l-0.5 0.8M44.7 40.7l1.0 1.6M15.9 -17.5l-0.1 1.2M-43.0 78.5l0.9 1.7M-26.9 -62.6l2.1 0.0M50.8 97.3l-0.2 0.9M-68.0 -91.1l-0.6 1.6M92.0 -41.2l0.8 0.7M-71.3 -95.2l0.0 1.4M-26.7 91.1l1.1 1.6M6.6 -80.2l1.6 0.2M75.6 -90.8l-0.7 0.9M37.8 67.3l-0.7 0.9M-69.5 94.4l-2.0 0.5M8.3 -90.6l0.8 1.9M-87.5 -41.4l2.0 0.3M-29.6 -84.4l0.5 1.0M-13.5 23.5l-0.4 0.8M6.9 -89.7l0.4 1.9M-48.0 65.1l1.0 0.9M59.1 -100.3l-0.3 1.5M43.4 90.5l-0.6 0.9M-60.8 -3.7l1.0 1.2M-82.9 39.2l0.2 0.8M-76.6 87.9l-1.8 0.9M-22.3 97.8l1.6 0.9M89.3 -58.9l1.0 0.0M-84.1 61.3l-0.5 1.4M-77.9 28.8l0.9 0.4M19.0 29.0l-1.6 1.1M-73.3 -39.6l1.3 0.6M-95.3 74.3l-1.0 1.6M-2.4 83.2l-1.7 1.0M61.8 -57.4l0.4 0.8M53.4 -5.4l-1.2 0.1"/></g><clipPath id="co0"><circle cx="286" cy="262" r="99.4"/></clipPath><clipPath id="ci0"><circle cx="286" cy="278" r="74.4"/></clipPath><clipPath id="co1"><circle cx="619" cy="264" r="99.4"/></clipPath><clipPath id="ci1"><circle cx="621" cy="280" r="74.4"/></clipPath><clipPath id="co2"><circle cx="951" cy="270" r="99.4"/></clipPath><clipPath id="ci2"><circle cx="952.5" cy="286" r="74.4"/></clipPath></defs><circle cx="284" cy="362" r="2.1" fill="#2f3b52"/><circle cx="284" cy="374.2" r="2.1" fill="#2f3b52"/><circle cx="284" cy="386.5" r="2.1" fill="#2f3b52"/><circle cx="284" cy="398.8" r="2.1" fill="#2f3b52"/><circle cx="286" cy="262" r="100" fill="#02b3e2"/><g clip-path="url(#co0)" opacity="0.42"><use href="#spk" stroke="#fff" transform="translate(286 262) rotate(0)"/></g><circle cx="286" cy="278" r="75" fill="#0e2a45"/><g clip-path="url(#ci0)" opacity="0.72"><use href="#spk" stroke="#e4e9ef" transform="translate(286 278) rotate(137) scale(0.8)"/></g><circle cx="619" cy="364" r="2.1" fill="#2f3b52"/><circle cx="619" cy="376.2" r="2.1" fill="#2f3b52"/><circle cx="619" cy="388.3" r="2.1" fill="#2f3b52"/><circle cx="619" cy="400.6" r="2.1" fill="#2f3b52"/><circle cx="619" cy="264" r="100" fill="#02b3e2"/><g clip-path="url(#co1)" opacity="0.42"><use href="#spk" stroke="#fff" transform="translate(619 264) rotate(71)"/></g><circle cx="621" cy="280" r="75" fill="#0e2a45"/><g clip-path="url(#ci1)" opacity="0.72"><use href="#spk" stroke="#e4e9ef" transform="translate(621 280) rotate(223) scale(0.8)"/></g><circle cx="954" cy="370" r="2.1" fill="#2f3b52"/><circle cx="954" cy="382.4" r="2.1" fill="#2f3b52"/><circle cx="954" cy="394.6" r="2.1" fill="#2f3b52"/><circle cx="951" cy="270" r="100" fill="#02b3e2"/><g clip-path="url(#co2)" opacity="0.42"><use href="#spk" stroke="#fff" transform="translate(951 270) rotate(190)"/></g><circle cx="952.5" cy="286" r="75" fill="#0e2a45"/><g clip-path="url(#ci2)" opacity="0.72"><use href="#spk" stroke="#e4e9ef" transform="translate(952.5 286) rotate(305) scale(0.8)"/></g></svg>
<div class="card" style="left:134.5px;top:404.5px;width:293.5px;height:227.5px"></div>
<div class="card" style="left:474px;top:404.5px;width:294px;height:231.5px"></div>
<div class="card" style="left:808.5px;top:404.5px;width:293.5px;height:231.2px"></div>
<div class="num" style="left:252.90px;top:255.25px;font-size:34.5px;line-height:41.40px;transform:scaleX(0.9687)">20%</div>
<div class="num" style="left:585.60px;top:257.25px;font-size:34.5px;line-height:41.40px;transform:scaleX(0.9832)">80%</div>
<div class="num" style="left:919.20px;top:263.75px;font-size:34.5px;line-height:41.40px;transform:scaleX(0.9224)">77%</div>
<div class="ln" style="left:184.60px;top:435.38px;letter-spacing:0.589px">Marketers see an</div>
<div class="ln" style="left:168.10px;top:465.28px;letter-spacing:0.556px">average <b>increase of</b></div>
<div class="ln" style="left:175.50px;top:495.38px;letter-spacing:0.469px"><b>20% in sales</b> when</div>
<div class="ln" style="left:177.30px;top:525.28px;letter-spacing:0.531px">using personalized</div>
<div class="ln" style="left:212.00px;top:555.28px;letter-spacing:0.536px">experiences</div>
<div class="ln" style="left:505.90px;top:440.28px;letter-spacing:0.396px"><b>80% of shoppers</b> are</div>
<div class="ln" style="left:523.70px;top:470.28px;letter-spacing:0.883px">more likely to buy</div>
<div class="ln" style="left:507.30px;top:500.28px;letter-spacing:1.003px">from a company that</div>
<div class="ln" style="left:518.00px;top:530.28px;letter-spacing:0.606px">offers personalized</div>
<div class="ln" style="left:554.60px;top:560.28px;letter-spacing:0.506px">experiences</div>
<div class="ln" style="left:858.80px;top:433.18px;letter-spacing:0.133px"><b>77% of consumers</b></div>
<div class="ln" style="left:889.50px;top:463.18px;letter-spacing:0.348px">have chosen,</div>
<div class="ln" style="left:840.20px;top:493.18px;letter-spacing:0.636px">recommended, or paid</div>
<div class="ln" style="left:843.50px;top:523.18px;letter-spacing:1.062px">more for a brand that</div>
<div class="ln" style="left:833.20px;top:553.18px;letter-spacing:0.628px">provides a personalized</div>
<div class="ln" style="left:900.00px;top:583.18px;letter-spacing:0.695px">experience</div>
<svg width="1200" height="700" viewBox="0 0 1200 700" style="left:0;top:0" fill="none" stroke="#0f2d47" stroke-width="1.75" stroke-linecap="round" stroke-linejoin="round">
<!-- icon 1: presenter -->
<g>
<circle cx="378.3" cy="586.7" r="6.2"/>
<path d="M369.8 609.6 C369.2 600.5 372.6 595.4 378.3 595.4 C384 595.4 387.4 600.5 386.8 609.6 L383.6 611.2 L382.6 620.6 L374 620.6 L373 611.2 Z"/>
<path d="M387 583.9 H406.6 Q408.7 583.9 408.7 586 V600.9 Q408.7 603 406.6 603 H389.8"/>
<path d="M393.2 583.6 L394.7 580.6 L396.2 583.6 Z" fill="#0f2d47" stroke-width="1"/>
<path d="M388.9 594.4 L391.2 592.6 L393.6 593.9 L396.4 591.9 L399.2 593.6 L402 592.2 L405.4 589.9" stroke-width="1.9"/>
<path d="M392.6 603.4 H397 L395.6 606.2 V611 L399.2 614.6 L394.8 612.6 L390.6 614.6 L394 611 V606.2 Z" fill="#0f2d47" stroke-width="0.8"/>
</g>
<!-- icon 2: chart -->
<g>
<path d="M706.4 621.2 H745.8" stroke-width="1.8"/>
<path d="M708.4 621 V614.8 H713.3 V621 M718.9 621 V606.8 H723.7 V621 M728.9 621 V611.8 H733.3 V621 M739.2 621 V598.1 H743.6 V621"/>
<path d="M712.1 596.5 L717.1 591.4 M721.9 590.8 L726.5 593.5 M731.6 593.2 L738.6 588"/>
<circle cx="710" cy="598.6" r="2.9"/><circle cx="719.2" cy="589.3" r="2.9"/><circle cx="729.1" cy="595" r="2.9"/><circle cx="741.1" cy="586.1" r="2.9"/>
</g>
<!-- icon 3: person thinking -->
<g stroke-width="1.65">
<circle cx="1064.4" cy="605.6" r="6.9"/>
<path d="M1052.9 626.9 C1052.9 619.8 1058 615.6 1064.5 615.6 C1071 615.6 1076.1 619.8 1076.1 626.9 Z"/>
<path d="M1066.7 595 C1066.9 591.8 1070.6 589.6 1074.4 591.2 C1076 588.9 1079.4 588.1 1082.6 588.6 C1087.6 589.4 1091.3 593 1091.2 597.6 C1091.1 601.2 1089.4 603.8 1086.4 604.6 C1085 607.4 1081.6 608.4 1078.8 607.8 C1077.4 607.5 1076.2 607 1075.4 606.4"/>
<circle cx="1080.5" cy="613.1" r="1.7" stroke-width="1.2"/>
<g fill="#0f2d47" stroke="none"><circle cx="1074.7" cy="597.7" r="1.1"/><circle cx="1079.5" cy="597.7" r="1.1"/><circle cx="1084.3" cy="597.7" r="1.1"/><circle cx="1074.4" cy="615.3" r="1.0"/></g>
</g>
<!-- logo mark -->
<g stroke="none">
<circle cx="1063.1" cy="670.1" r="12.2" fill="#000"/>
<rect x="1055.3" y="663" width="3.6" height="9.5" fill="#1db9e0"/>
<rect x="1055.3" y="671.5" width="3.6" height="7" fill="#fff"/>
</g>
<g stroke-width="3.2" stroke-linecap="butt">
<path d="M1065.6 672.5 A4.8 4.8 0 0 1 1058.8 679.3" stroke="#1db9e0"/>
<path d="M1065.6 672.5 A4.8 4.8 0 0 0 1058.8 679.3" stroke="#fff"/>
</g>
</svg>
<div class="logo" style="left:1077.3px;top:657.6px;font-size:17.8px;line-height:24px;letter-spacing:-0.1px"><b style="letter-spacing:0.3px">bloom</b><span>reach</span></div>
</body></html>
